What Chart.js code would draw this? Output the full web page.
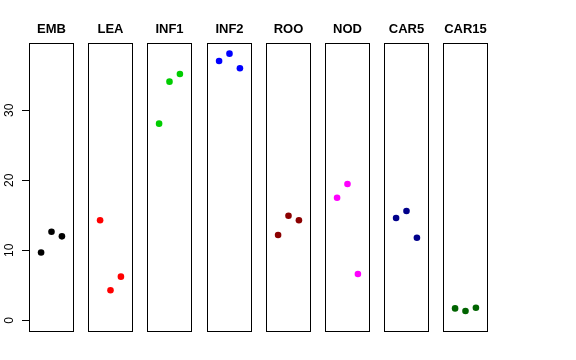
<!DOCTYPE html>
<html>
<head>
<meta charset="utf-8">
<script src="https://cdn.jsdelivr.net/npm/chart.js@4"></script>
<style>
  body { margin: 0; background: #fff; }
  #wrap { position: relative; width: 576px; height: 360px; }
  .cell { position: absolute; top: 0; height: 360px; }
</style>
</head>
<body>
<div id="wrap"></div>
<script>
'use strict';

// panel names and the three values
const groups = ['EMB', 'LEA', 'INF1', 'INF2', 'ROO', 'NOD', 'CAR5', 'CAR15'];
const emb = [9.7, 12.66, 12.0];
const lea = [14.29, 4.29, 6.24];
const inf1 = [28.09, 34.09, 35.19];
const inf2 = [37.04, 38.09, 36.0];
const roo = [12.19, 14.94, 14.29];
const nod = [17.51, 19.47, 6.61];
const car5 = [14.61, 15.61, 11.8];
const car15 = [1.71, 1.33, 1.8];
const yTicks = [0, 10, 20, 30];

const values = [emb, lea, inf1, inf2, roo, nod, car5, car15];
const colours = ['#000000', '#ff0000', '#00cd00', '#0000ff', '#8b0000', '#ff00ff', '#00008b', '#006400'];

const yMin = -1.52, yMax = 39.61;
const panelLeft = 29, panelStep = 59.2, panelWidth = 45, pad = 7, axisWidth = 29;

// box around each panel
const boxPlugin = {
  id: 'box',
  afterDraw(chart) {
    let a = chart.chartArea, ctx = chart.ctx;
    ctx.save();
    ctx.strokeStyle = '#000';
    ctx.lineWidth = 1;
    ctx.strokeRect(Math.round(a.left) + 0.5, Math.round(a.top) + 0.5,
      Math.round(a.right - a.left) - 1, Math.round(a.bottom - a.top));
    ctx.restore();
  }
};

// rotated tick labels for the left axis
const yLabelPlugin = {
  id: 'ylabels',
  afterDraw(chart) {
    let s = chart.scales.y, ctx = chart.ctx;
    ctx.save();
    ctx.fillStyle = '#000';
    ctx.font = '12px "Liberation Sans", Arial, sans-serif';
    ctx.textAlign = 'center';
    ctx.textBaseline = 'middle';
    s.ticks.forEach((t) => {
      ctx.save();
      ctx.translate(10, s.getPixelForValue(t.value));
      ctx.rotate(-Math.PI / 2);
      ctx.fillText(String(t.value), 0, 0);
      ctx.restore();
    });
    ctx.restore();
  }
};

const wrap = document.getElementById('wrap');

groups.forEach((name, i) => {
  let first = i === 0;
  let left = Math.round(panelLeft + i * panelStep);
  let div = document.createElement('div');
  div.className = 'cell';
  let cLeft = first ? 0 : left - pad;
  let cWidth = first ? left + panelWidth + pad : panelWidth + 2 * pad;
  div.style.left = cLeft + 'px';
  div.style.width = cWidth + 'px';
  let canvas = document.createElement('canvas');
  div.appendChild(canvas);
  wrap.appendChild(div);

  let yAxis = {
    type: 'linear',
    min: yMin,
    max: yMax,
    display: first,
  };
  if (first) {
    yAxis.afterBuildTicks = (s) => { s.ticks = yTicks.map((v) => ({ value: v })); };
    yAxis.afterFit = (s) => { s.width = axisWidth; };
    yAxis.ticks = { display: false };
    yAxis.border = { display: false };
    yAxis.grid = { drawOnChartArea: false, drawTicks: true, tickLength: 7, color: '#000', lineWidth: 1 };
  }

  new Chart(canvas, {
    type: 'scatter',
    data: {
      datasets: [{
        label: name,
        data: values[i].map((v, k) => ({ x: k + 1, y: v })),
        backgroundColor: colours[i],
        borderWidth: 0,
        pointRadius: 3.3,
      }],
    },
    options: {
      responsive: true,
      maintainAspectRatio: false,
      animation: false,
      events: [],
      layout: { padding: { left: first ? 0 : pad, right: pad, top: 0, bottom: 29 } },
      plugins: {
        legend: { display: false },
        tooltip: { enabled: false },
        title: {
          display: true,
          text: name,
          fullSize: false,
          color: '#000',
          font: { family: '"Liberation Sans", Arial, sans-serif', size: 13, weight: 'bold', lineHeight: 1.2 },
          padding: { top: 21.5, bottom: 5.9 },
        },
      },
      scales: {
        x: { type: 'linear', min: -0.16, max: 4.16, display: false },
        y: yAxis,
      },
    },
    plugins: first ? [boxPlugin, yLabelPlugin] : [boxPlugin],
  });
});
</script>
</body>
</html>
